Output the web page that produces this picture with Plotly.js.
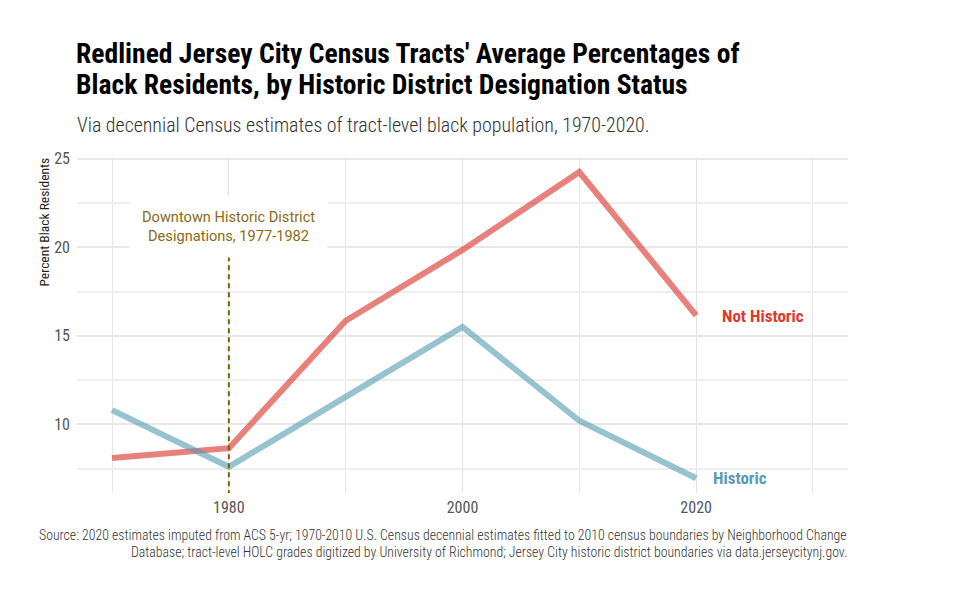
<!DOCTYPE html>
<html>
<head>
<meta charset="utf-8">
<script src="https://cdn.plot.ly/plotly-3.0.1.min.js"></script>
<style>html,body{margin:0;padding:0;background:#fff;}#chart{width:960px;height:600px;}</style>
</head>
<body>
<div id="chart"></div>
<script>
const years = [1970, 1980, 1990, 2000, 2010, 2020];
const notHistoric = [8.1, 8.65, 15.85, 19.85, 24.25, 16.15];
const historic = [10.8, 7.6, 11.55, 15.5, 10.2, 6.95];
const seriesNames = ["Not Historic", "Historic"];
const xTicks = [1980, 2000, 2020];
const yTicks = [10, 15, 20, 25];
const designationYear = 1980;
const designationTop = 19.5;
const designationLabel = "Downtown Historic District<br>Designations, 1977-1982";
const titleLines = [
  "Redlined Jersey City Census Tracts' Average Percentages of",
  "Black Residents, by Historic District Designation Status"
];
const subtitle = "Via decennial Census estimates of tract-level black population, 1970-2020.";
const captionLines = [
  "Source: 2020 estimates imputed from ACS 5-yr; 1970-2010 U.S. Census decennial estimates fitted to 2010 census boundaries by Neighborhood Change",
  "Database; tract-level HOLC grades digitized by University of Richmond; Jersey City historic district boundaries via data.jerseycitynj.gov."
];

const condensed = "Roboto Condensed, Liberation Sans Narrow, DejaVu Sans Condensed, Roboto, sans-serif";
const yRange = [6.12, 25.1];
const redLine = "#D92B25", redText = "#E0392B";
const blueLine = "#529BB2", blueText = "#5B9AB4";
const gold = "#7F5F00";

const traces = [
  {x: years, y: notHistoric, name: seriesNames[0], mode: "lines", type: "scatter",
   line: {color: redLine, width: 6}, opacity: 0.6, hoverinfo: "skip"},
  {x: years, y: historic, name: seriesNames[1], mode: "lines", type: "scatter",
   line: {color: blueLine, width: 6}, opacity: 0.6, hoverinfo: "skip"},
  {x: [designationYear, designationYear], y: [designationTop, yRange[0]], mode: "lines", type: "scatter",
   line: {color: gold, width: 2, dash: "5px,4px"}, hoverinfo: "skip"}
];

const annotations = [];
titleLines.forEach((t, i) => annotations.push({
  xref: "paper", yref: "paper", x: -0.0025, y: 1.0, yshift: 121 - 31 * i, xanchor: "left", yanchor: "top", align: "left",
  showarrow: false, text: "<b>" + t + "</b>", borderpad: 0,
  font: {size: 27.6, color: "#000", family: condensed}
}));
annotations.push(
  {xref: "paper", yref: "paper", x: -0.0025, y: 1.0, yshift: 45, xanchor: "left", yanchor: "top", align: "left",
   showarrow: false, text: subtitle,
   font: {size: 19.9, color: "#333", family: condensed, weight: 300}},
  {xref: "paper", yref: "paper", x: -0.044, y: 1.0, yshift: 1, xanchor: "center", yanchor: "top",
   textangle: -90, showarrow: false, text: "Percent Black Residents",
   font: {size: 13.5, color: "#222", family: condensed}},
  {xref: "x", yref: "y", x: designationYear, y: 21.15, showarrow: false, align: "center",
   text: designationLabel, bgcolor: "#fff", borderpad: 12,
   font: {size: 14.6, color: "#8C6A14", family: "Roboto, sans-serif"}},
  {xref: "x", yref: "y", x: years[years.length - 1], y: notHistoric[notHistoric.length - 1], xanchor: "left",
   xshift: 24, yshift: -1, showarrow: false, text: "<b>" + seriesNames[0] + "</b>",
   font: {size: 17, color: redText, family: condensed}},
  {xref: "x", yref: "y", x: years[years.length - 1], y: historic[historic.length - 1], xanchor: "left",
   xshift: 15, showarrow: false, text: "<b>" + seriesNames[1] + "</b>",
   font: {size: 17, color: blueText, family: condensed}}
);
captionLines.forEach((t, i) => annotations.push({
  xref: "paper", yref: "paper", x: 1.0, y: 0, yshift: -33 - 17 * i, xanchor: "right", yanchor: "top", align: "right",
  showarrow: false, text: t, borderpad: 0, font: {size: 13.8, color: "#333", family: condensed, weight: 300}
}));

const layout = {
  width: 960, height: 600,
  paper_bgcolor: "#fff", plot_bgcolor: "#fff",
  showlegend: false,
  margin: {l: 77, r: 112, t: 157, b: 107},
  font: {family: condensed, color: "#333"},
  xaxis: {
    range: [1967, 2033], tickvals: xTicks, ticktext: xTicks.map(String),
    showgrid: true, gridcolor: "#E3E3E3", gridwidth: 1, zeroline: false,
    showline: false, ticks: "", ticklabelstandoff: 3, tickfont: {size: 16, color: "#555", family: condensed},
    minor: {tick0: 1970, dtick: 10, showgrid: true, gridcolor: "#E6E6E6", gridwidth: 1},
    fixedrange: true
  },
  yaxis: {
    range: yRange, tickvals: yTicks, ticktext: yTicks.map(String),
    showgrid: true, gridcolor: "#E8E8E8", gridwidth: 2, zeroline: false,
    showline: false, ticks: "", ticklabelstandoff: 6, tickfont: {size: 16, color: "#555", family: condensed},
    minor: {tick0: 7.5, dtick: 5, showgrid: true, gridcolor: "#EFEFEF", gridwidth: 2},
    fixedrange: true
  },
  annotations: annotations
};

Plotly.newPlot("chart", traces, layout, {displayModeBar: false, staticPlot: true});
</script>
</body>
</html>
